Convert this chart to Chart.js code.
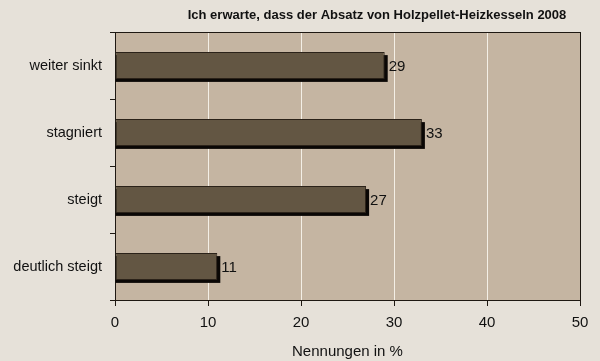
<!DOCTYPE html>
<html>
<head>
<meta charset="utf-8">
<script src="https://cdn.jsdelivr.net/npm/chart.js@4"></script>
<style>
  html, body { margin: 0; padding: 0; background: #e6e1d9; }
  #wrap { width: 600px; height: 361px; }
</style>
</head>
<body>
<div id="wrap"><canvas id="grafik"></canvas></div>
<script>
const categories = ["weiter sinkt", "stagniert", "steigt", "deutlich steigt"];
const nennungen = [29, 33, 27, 11];
const xTicks = [0, 10, 20, 30, 40, 50];
const titel = "Ich erwarte, dass der Absatz von Holzpellet-Heizkesseln 2008";
const achsenTitel = "Nennungen in %";

const dunkel = "#1e1812";
const fontFam = "'Liberation Sans', Arial, sans-serif";

// Hintergrund der Plotfläche, Rahmen oben, Titel
const plotBg = {
  id: "plotBg",
  beforeDraw(chart) {
    const { ctx, chartArea: a } = chart;
    ctx.save();
    ctx.fillStyle = "#c5b5a2";
    ctx.fillRect(a.left, a.top, a.right - a.left, a.bottom - a.top);
    ctx.restore();
  },
  afterDraw(chart) {
    const { ctx, chartArea: a } = chart;
    ctx.save();
    ctx.strokeStyle = dunkel;
    ctx.lineWidth = 1;
    ctx.beginPath();
    ctx.moveTo(a.left, a.top + 0.5);
    ctx.lineTo(a.right, a.top + 0.5);
    ctx.stroke();
    ctx.fillStyle = "#111";
    ctx.font = "bold 13px " + fontFam;
    ctx.textAlign = "center";
    ctx.textBaseline = "middle";
    ctx.fillText(titel, 377, 15);
    ctx.restore();
  }
};

// Schatten unter den Balken + Werte
const schatten = {
  id: "schatten",
  beforeDatasetsDraw(chart) {
    const ctx = chart.ctx;
    const meta = chart.getDatasetMeta(0);
    ctx.save();
    ctx.fillStyle = "#0a0705";
    meta.data.forEach(bar => {
      const h = bar.height;
      ctx.fillRect(bar.base, bar.y - h / 2 + 3, bar.x - bar.base + 3, h);
    });
    ctx.restore();
  },
  afterDatasetsDraw(chart) {
    const ctx = chart.ctx;
    const meta = chart.getDatasetMeta(0);
    ctx.save();
    ctx.fillStyle = "#111";
    ctx.font = "15px " + fontFam;
    ctx.textBaseline = "middle";
    meta.data.forEach((bar, i) => {
      ctx.fillText(nennungen[i], bar.x + 4, bar.y + 1);
    });
    ctx.restore();
  }
};

new Chart(document.getElementById("grafik"), {
  type: "bar",
  data: {
    labels: categories,
    datasets: [{
      data: nennungen,
      backgroundColor: "#635643",
      borderColor: "#2b2219",
      borderWidth: 1,
      borderSkipped: false,
      barPercentage: 0.4,
      categoryPercentage: 1
    }]
  },
  options: {
    indexAxis: "y",
    responsive: true,
    maintainAspectRatio: false,
    animation: false,
    layout: { padding: { top: 32, right: 20, left: 0, bottom: 0 } },
    plugins: {
      legend: { display: false },
      tooltip: { enabled: false }
    },
    scales: {
      x: {
        min: 0,
        max: 50,
        afterBuildTicks(scale) {
          scale.ticks = xTicks.map(v => ({ value: v }));
        },
        afterFit(scale) { scale.height = 61; },
        grid: {
          color: ctx => (ctx.tick && (ctx.tick.value === 50 || ctx.tick.value === 0)) ? dunkel : "#f4efe6",
          tickColor: dunkel,
          tickLength: 6,
          lineWidth: 1
        },
        border: { display: true, color: dunkel, width: 1 },
        ticks: {
          color: "#111",
          font: { family: fontFam, size: 15 },
          padding: 8
        },
        title: {
          display: true,
          text: achsenTitel,
          color: "#111",
          font: { family: fontFam, size: 15 },
          padding: { top: 2, bottom: 0 }
        }
      },
      y: {
        afterFit(scale) { scale.width = 115; },
        grid: {
          drawOnChartArea: false,
          drawTicks: true,
          tickLength: 5,
          color: dunkel,
          offset: true
        },
        border: { display: true, color: dunkel, width: 1 },
        ticks: {
          color: "#111",
          font: { family: fontFam, size: 14.5 },
          padding: 8
        }
      }
    }
  },
  plugins: [plotBg, schatten]
});
</script>
</body>
</html>
